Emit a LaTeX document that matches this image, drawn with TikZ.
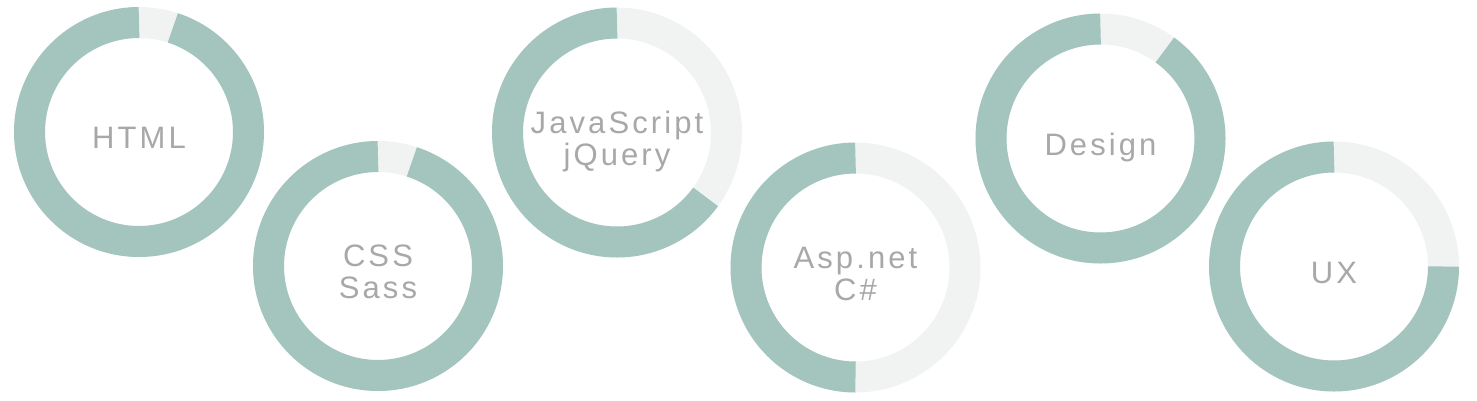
\documentclass[tikz,border=0pt]{standalone}
\usepackage{fontspec}
\setmainfont{Liberation Sans}[LetterSpace=10]
\definecolor{ringfill}{HTML}{A3C5BD}
\definecolor{ringrest}{HTML}{F1F3F2}
\definecolor{labelgray}{HTML}{A8A8A8}

\begin{document}
\begin{tikzpicture}[x=1pt,y=1pt,
        ring/.style={line width=31pt},
        skill/.style={text=labelgray,align=center,font=\fontsize{31}{32}\selectfont,text depth=0pt}]
        \useasboundingbox (0,0) rectangle (1477,-400);

        \foreach \name/\cx/\cy/\pct/\txt in {html/139/-132/95/HTML, css/378/-266/95/{CSS\\Sass},
                js/617/-132.5/65/{JavaScript\\jQuery}, asp/855.5/-267.5/50/{Asp.net\\C\#},
                design/1100.5/-138.5/90/Design, ux/1334/-266.5/75/UX}
        {
        \coordinate (\name) at (\cx,\cy);
        \draw[ring, ringrest] (\name) circle (109.5);
        \draw[ring, ringfill] (\name) ++(0,109.5) arc[start angle=90, delta angle=3.6*\pct, radius=109.5];
        \node[skill, yshift=-6pt] (\name-label) at (\name) {\txt};
        }

    \end{tikzpicture}
\end{document}
